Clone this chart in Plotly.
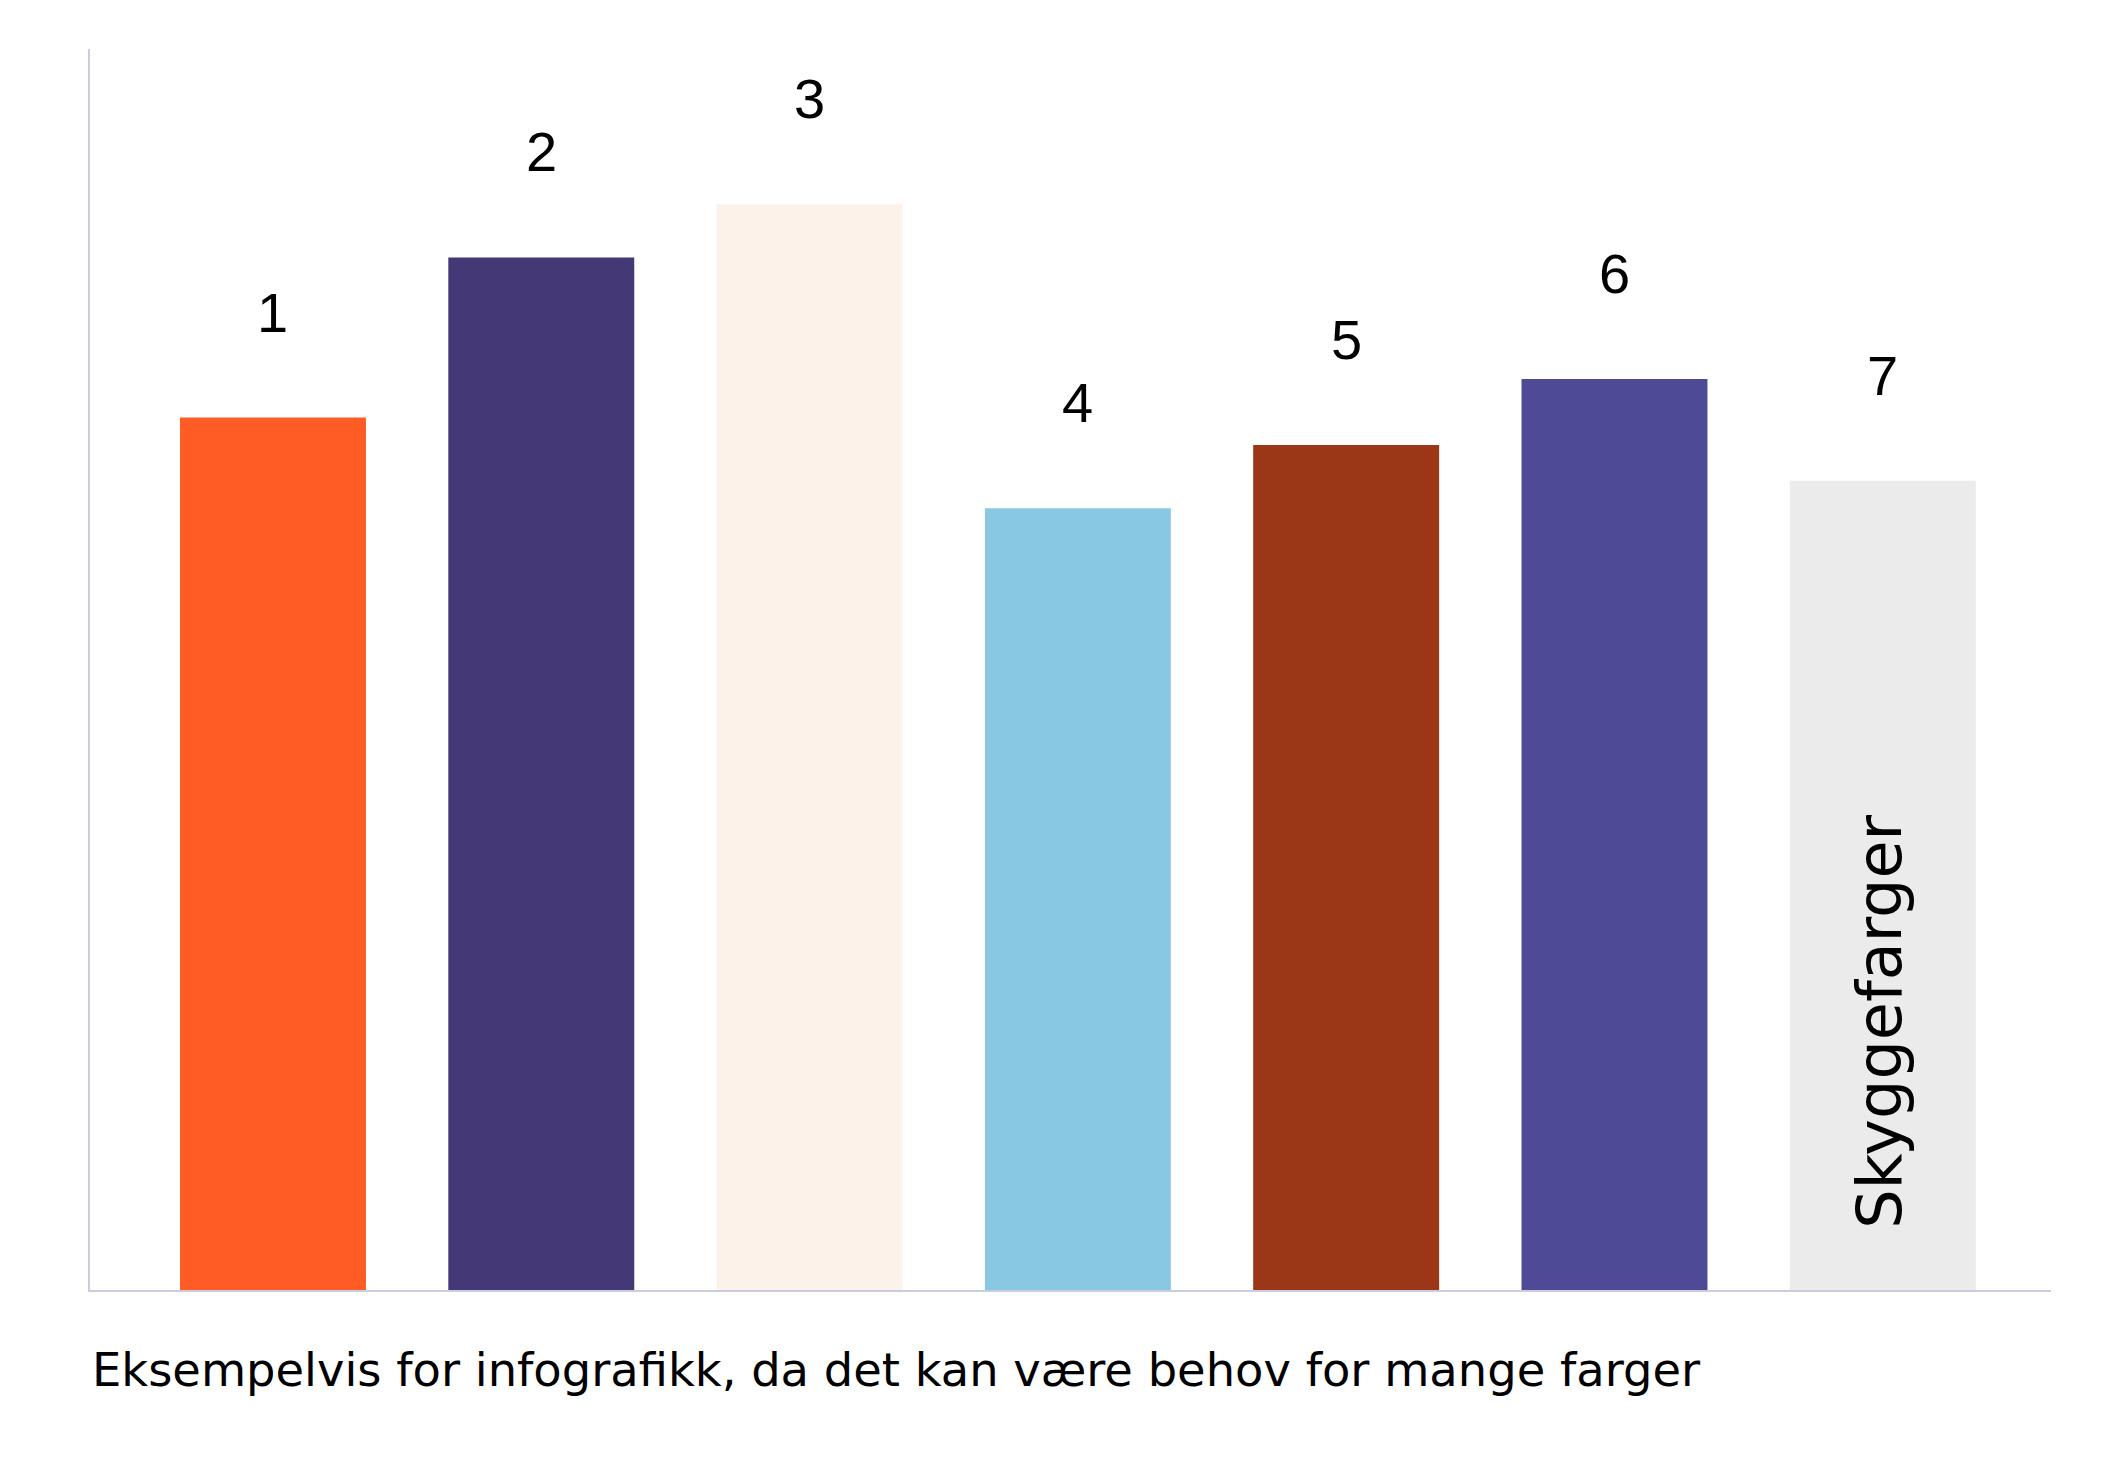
import plotly.graph_objects as go

categories = ["1", "2", "3", "4", "5", "6", "7"]
values = [70.3, 83.2, 87.5, 63.0, 68.1, 73.4, 65.2]
colors = ["#FF5B24", "#443877", "#FDF2EA", "#88C8E2", "#9B3617", "#4E4A96", "#EBEBEB"]
inner_label = "Skyggefarger"
inner_label_value = 21.6
caption = "Eksempelvis for infografikk, da det kan være behov for mange farger"

x_pos = list(range(len(categories)))

fig = go.Figure()
fig.add_trace(go.Bar(
    x=x_pos, y=values, marker=dict(color=colors, line=dict(width=0)),
    width=0.693, hoverinfo="skip", showlegend=False,
))

annotations = []
for xi, cat, v in zip(x_pos, categories, values):
    annotations.append(dict(
        x=xi, y=v, xref="x", yref="y", text=cat, showarrow=False,
        yanchor="bottom", yshift=72,
        font=dict(family="Liberation Sans, Arial", size=56, color="#000000"),
    ))

annotations.append(dict(
    x=x_pos[-1], y=inner_label_value, xref="x", yref="y", text=inner_label,
    showarrow=False, textangle=-90, xanchor="center", yanchor="middle",
    xshift=-3,
    font=dict(family="DejaVu Sans", size=62, color="#000000"),
))

annotations.append(dict(
    x=0, y=-0.0645, xref="paper", yref="paper", text=caption, showarrow=False,
    xanchor="left", yanchor="middle",
    font=dict(family="DejaVu Sans", size=46.4, color="#000000"),
))

fig.update_layout(
    width=2094, height=1453,
    margin=dict(l=82, r=51, t=41, b=171),
    paper_bgcolor="white", plot_bgcolor="white",
    annotations=annotations,
)
fig.update_xaxes(range=[-0.682, 6.627], showline=True, linecolor="#CCCCE0", linewidth=2,
                 showticklabels=False, ticks="", showgrid=False, zeroline=False)
fig.update_yaxes(range=[0, 100], showline=True, linecolor="#CCCCE0", linewidth=2,
                 showticklabels=False, ticks="", showgrid=False, zeroline=False)

fig.write_html("out.html")
